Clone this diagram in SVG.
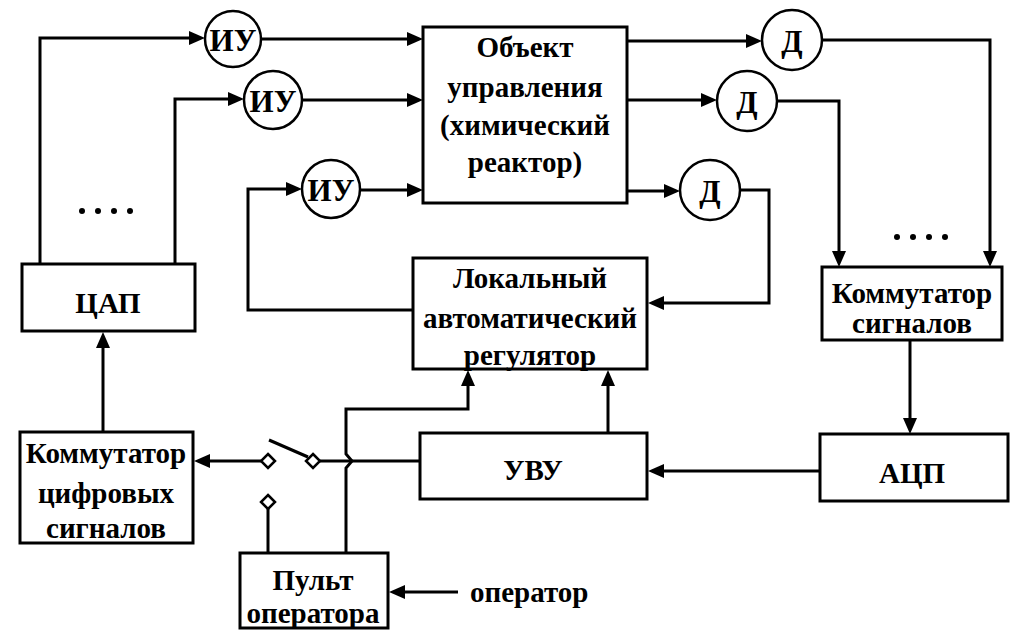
<svg xmlns="http://www.w3.org/2000/svg" width="1029" height="638" viewBox="0 0 1029 638">
<rect width="1029" height="638" fill="#fff"/>
<g id="connectors" fill="none" stroke="#000" stroke-width="3">
<path d="M40,264 V38 H195"/>
<path d="M261,39 H413"/>
<path d="M175,264 V99 H234"/>
<path d="M302,100 H413"/>
<path d="M413,310 H248 V189 H292"/>
<path d="M360,190 H413"/>
<path d="M627,41 H752"/>
<path d="M822,40 H990 V257"/>
<path d="M627,100 H707"/>
<path d="M777,101 H839 V257"/>
<path d="M627,191 H670"/>
<path d="M740,190 H769 V303 H658"/>
<path d="M910,340 V424"/>
<path d="M820,471 H658"/>
<path d="M608,433 V380"/>
<path d="M420,461 H320"/>
<path d="M269,440 L308,457"/>
<path d="M261,461 H204"/>
<path d="M268,509 V553"/>
<path d="M346,553 V468 L352,461 L346,454 V409 H468 V380"/>
<path d="M103,432 V342"/>
<path d="M458,592 H399"/>
<g fill="#000" stroke="none">
<polygon points="189,31 205,38 189,45"/>
<polygon points="407,32 423,39 407,46"/>
<polygon points="228,92 244,99 228,106"/>
<polygon points="407,93 423,100 407,107"/>
<polygon points="286,182 302,189 286,196"/>
<polygon points="407,183 423,190 407,197"/>
<polygon points="746,34 762,41 746,48"/>
<polygon points="983,251 990,267 997,251"/>
<polygon points="701,93 717,100 701,107"/>
<polygon points="832,251 839,267 846,251"/>
<polygon points="664,184 680,191 664,198"/>
<polygon points="664,296 648,303 664,310"/>
<polygon points="903,418 910,434 917,418"/>
<polygon points="664,464 648,471 664,478"/>
<polygon points="601,386 608,370 615,386"/>
<polygon points="210,454 194,461 210,468"/>
<polygon points="461,386 468,370 475,386"/>
<polygon points="96,348 103,332 110,348"/>
<polygon points="405,585 389,592 405,599"/>
</g>
<g fill="#fff" stroke-width="2.5">
<path d="M268,454 L275,461 L268,468 L261,461 Z"/>
<path d="M313,454 L320,461 L313,468 L306,461 Z"/>
<path d="M268,495 L275,502 L268,509 L261,502 Z"/>
</g>
</g>
<g id="iu1"><circle fill="#fff" stroke="#000" stroke-width="2.5" cx="233" cy="39" r="28"/><text x="233" y="51" font-family="Liberation Serif" font-size="31" font-weight="bold" text-anchor="middle">ИУ</text></g>
<g id="iu2"><circle fill="#fff" stroke="#000" stroke-width="2.5" cx="273" cy="100" r="29"/><text x="273" y="112" font-family="Liberation Serif" font-size="31" font-weight="bold" text-anchor="middle">ИУ</text></g>
<g id="iu3"><circle fill="#fff" stroke="#000" stroke-width="2.5" cx="331" cy="189" r="29"/><text x="331" y="201" font-family="Liberation Serif" font-size="31" font-weight="bold" text-anchor="middle">ИУ</text></g>
<g id="d1"><circle fill="#fff" stroke="#000" stroke-width="2.5" cx="792" cy="40" r="30"/><text x="792" y="52" font-family="Liberation Serif" font-size="31" font-weight="bold" text-anchor="middle">Д</text></g>
<g id="d2"><circle fill="#fff" stroke="#000" stroke-width="2.5" cx="747" cy="101" r="30"/><text x="747" y="113" font-family="Liberation Serif" font-size="31" font-weight="bold" text-anchor="middle">Д</text></g>
<g id="d3"><circle fill="#fff" stroke="#000" stroke-width="2.5" cx="710" cy="190" r="30"/><text x="710" y="202" font-family="Liberation Serif" font-size="31" font-weight="bold" text-anchor="middle">Д</text></g>
<g id="object">
<rect fill="#fff" stroke="#000" stroke-width="3" x="423" y="27" width="204" height="176"/>
<text x="525" y="57" font-family="Liberation Serif" font-size="29" font-weight="bold" text-anchor="middle">Объект</text>
<text x="525" y="97" font-family="Liberation Serif" font-size="29" font-weight="bold" text-anchor="middle">управления</text>
<text x="525" y="135" font-family="Liberation Serif" font-size="29" font-weight="bold" text-anchor="middle">(химический</text>
<text x="525" y="172" font-family="Liberation Serif" font-size="29" font-weight="bold" text-anchor="middle">реактор)</text>
</g>
<g id="cap">
<rect fill="#fff" stroke="#000" stroke-width="3" x="22" y="264" width="173" height="67"/>
<text x="108" y="313" font-family="Liberation Serif" font-size="29" font-weight="bold" text-anchor="middle">ЦАП</text>
</g>
<g id="regulator">
<rect fill="#fff" stroke="#000" stroke-width="3" x="413" y="258" width="234" height="111"/>
<text x="530" y="288" font-family="Liberation Serif" font-size="29" font-weight="bold" text-anchor="middle">Локальный</text>
<text x="530" y="328" font-family="Liberation Serif" font-size="29" font-weight="bold" text-anchor="middle">автоматический</text>
<text x="530" y="365" font-family="Liberation Serif" font-size="29" font-weight="bold" text-anchor="middle">регулятор</text>
</g>
<g id="comm-signals">
<rect fill="#fff" stroke="#000" stroke-width="3" x="822" y="267" width="180" height="73"/>
<text x="912" y="303" font-family="Liberation Serif" font-size="29" font-weight="bold" text-anchor="middle">Коммутатор</text>
<text x="912" y="333" font-family="Liberation Serif" font-size="29" font-weight="bold" text-anchor="middle">сигналов</text>
</g>
<g id="comm-digital">
<rect fill="#fff" stroke="#000" stroke-width="3" x="20" y="432" width="173" height="111"/>
<text x="106" y="463" font-family="Liberation Serif" font-size="29" font-weight="bold" text-anchor="middle">Коммутатор</text>
<text x="106" y="503" font-family="Liberation Serif" font-size="29" font-weight="bold" text-anchor="middle">цифровых</text>
<text x="106" y="538" font-family="Liberation Serif" font-size="29" font-weight="bold" text-anchor="middle">сигналов</text>
</g>
<g id="uvu">
<rect fill="#fff" stroke="#000" stroke-width="3" x="420" y="433" width="227" height="66"/>
<text x="533" y="480" font-family="Liberation Serif" font-size="29" font-weight="bold" text-anchor="middle">УВУ</text>
</g>
<g id="acp">
<rect fill="#fff" stroke="#000" stroke-width="3" x="820" y="434" width="188" height="67"/>
<text x="912" y="483" font-family="Liberation Serif" font-size="29" font-weight="bold" text-anchor="middle">АЦП</text>
</g>
<g id="pult">
<rect fill="#fff" stroke="#000" stroke-width="3" x="240" y="553" width="148" height="75"/>
<text x="313" y="590" font-family="Liberation Serif" font-size="29" font-weight="bold" text-anchor="middle">Пульт</text>
<text x="313" y="623" font-family="Liberation Serif" font-size="29" font-weight="bold" text-anchor="middle">оператора</text>
</g>
<g id="operator-label"><text x="470" y="602" font-family="Liberation Serif" font-size="29" font-weight="bold">оператор</text></g>
<g id="dots" fill="#000">
<circle cx="82" cy="211" r="3"/><circle cx="98" cy="211" r="3"/><circle cx="114" cy="211" r="3"/><circle cx="130" cy="211" r="3"/>
<circle cx="897" cy="237" r="3"/><circle cx="913" cy="237" r="3"/><circle cx="929" cy="237" r="3"/><circle cx="945" cy="237" r="3"/>
</g>
</svg>
